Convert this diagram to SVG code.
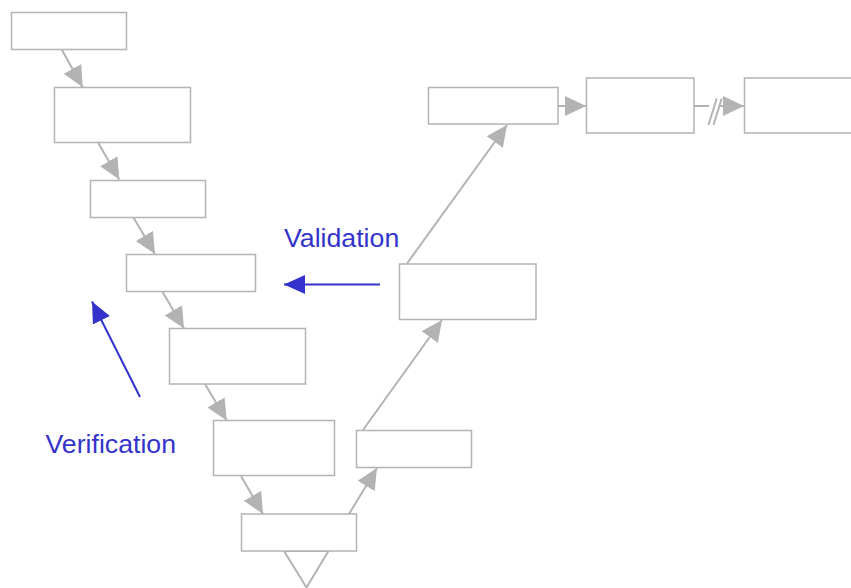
<svg xmlns="http://www.w3.org/2000/svg" width="851" height="588" viewBox="0 0 851 588">
<style>
.box{fill:#fff;stroke:#b3b3b3;stroke-width:1.5}
.con{fill:none;stroke:#b3b3b3;stroke-width:2}
.blue{fill:none;stroke:#3333cc;stroke-width:2}
.lbl{font-family:"Liberation Sans",Arial,sans-serif;font-size:26.7px;fill:#3333cc}
</style>
<defs>
<marker id="ga" markerUnits="userSpaceOnUse" markerWidth="22" markerHeight="21" refX="21" refY="10" orient="auto">
<path d="M0,0 L21,10 L0,20 z" fill="#b3b3b3"/>
</marker>
<marker id="ba" markerUnits="userSpaceOnUse" markerWidth="22" markerHeight="20" refX="21" refY="9.5" orient="auto">
<path d="M0,0 L21,9.5 L0,19 z" fill="#3333cc"/>
</marker>
</defs>
<rect width="851" height="588" fill="#fff"/>
<g id="connectors">
<line class="con" x1="62" y1="50" x2="82.7" y2="87.3" marker-end="url(#ga)"/>
<line class="con" x1="98.3" y1="143" x2="119.3" y2="179.5" marker-end="url(#ga)"/>
<line class="con" x1="133.5" y1="217.5" x2="155" y2="254" marker-end="url(#ga)"/>
<line class="con" x1="162.3" y1="291.5" x2="184" y2="328.5" marker-end="url(#ga)"/>
<line class="con" x1="205" y1="384" x2="226.7" y2="420.5" marker-end="url(#ga)"/>
<line class="con" x1="241" y1="476" x2="263" y2="514" marker-end="url(#ga)"/>
<line class="con" x1="349" y1="514" x2="377" y2="468" marker-end="url(#ga)"/>
<line class="con" x1="363" y1="430" x2="442" y2="320" marker-end="url(#ga)"/>
<line class="con" x1="407" y1="263.5" x2="507" y2="125" marker-end="url(#ga)"/>
<line class="con" x1="558" y1="106" x2="586" y2="106" marker-end="url(#ga)"/>
<line class="con" x1="694" y1="106" x2="709" y2="106"/>
<line class="con" x1="720" y1="106" x2="744" y2="106" marker-end="url(#ga)"/>
<line class="con" x1="708.5" y1="125" x2="716.7" y2="98.5"/>
<line class="con" x1="713.5" y1="125" x2="721.7" y2="98.5"/>
<polygon points="284,551 306.5,587.5 328.5,551" class="con"/>
</g>
<g id="node1"><rect class="box" x="11.5" y="12.5" width="115" height="37"/></g>
<g id="node2"><rect class="box" x="54.5" y="87.5" width="136" height="55"/></g>
<g id="node3"><rect class="box" x="90.5" y="180.5" width="115" height="37"/></g>
<g id="node4"><rect class="box" x="126.5" y="254.5" width="129" height="37"/></g>
<g id="node5"><rect class="box" x="169.5" y="328.5" width="136" height="55.5"/></g>
<g id="node6"><rect class="box" x="213.5" y="420.5" width="121" height="55"/></g>
<g id="node7"><rect class="box" x="241.5" y="514" width="115" height="37"/></g>
<g id="node8"><rect class="box" x="356.5" y="430.5" width="115" height="37"/></g>
<g id="node9"><rect class="box" x="399.5" y="264" width="136.5" height="55.5"/></g>
<g id="node10"><rect class="box" x="428.5" y="87.5" width="129.5" height="36.5"/></g>
<g id="node11"><rect class="box" x="586.5" y="78" width="107.5" height="55"/></g>
<g id="node12"><rect class="box" x="744.5" y="78" width="120" height="55"/></g>
<g id="validation">
<text class="lbl" x="284" y="246.5">Validation</text>
<line class="blue" x1="380" y1="284.5" x2="284" y2="284.5" marker-end="url(#ba)"/>
</g>
<g id="verification">
<text class="lbl" x="45.5" y="453">Verification</text>
<line class="blue" x1="140" y1="397" x2="92" y2="301.5" marker-end="url(#ba)"/>
</g>
</svg>
